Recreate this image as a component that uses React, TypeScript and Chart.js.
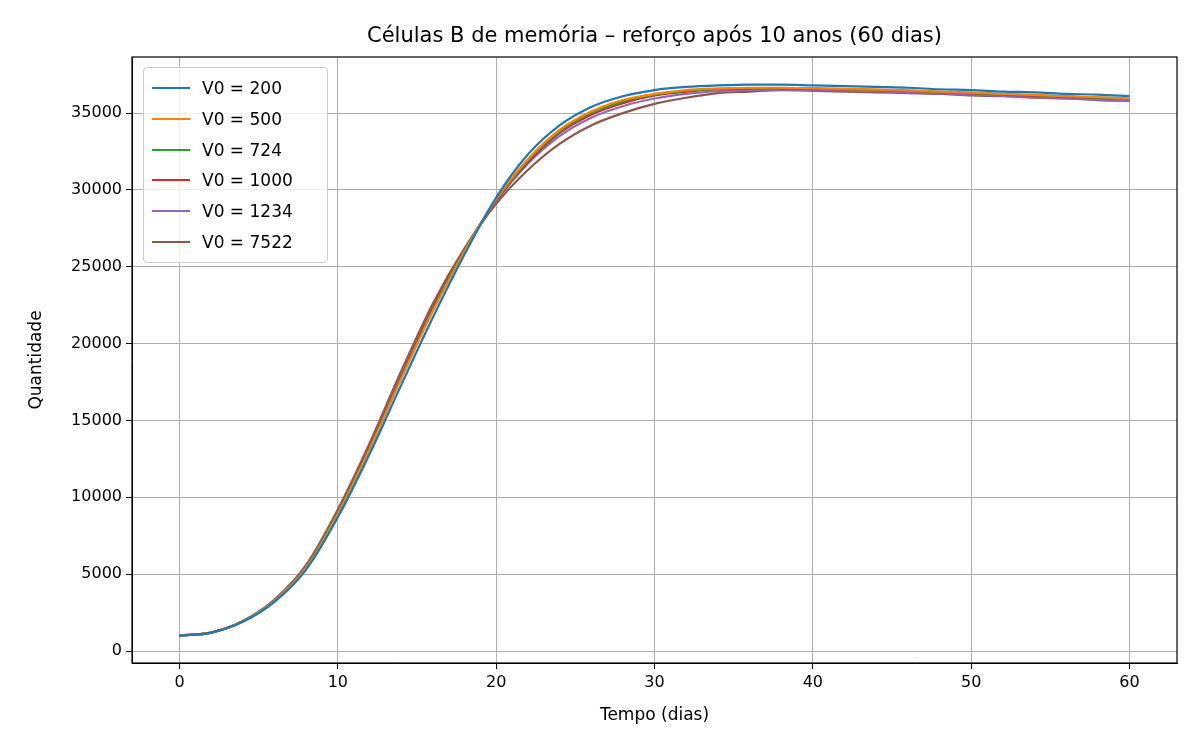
import { useRef, useEffect } from "react";
import { Chart, registerables } from "chart.js";

Chart.register(...registerables);

const days = [0, 2, 4, 6, 8, 10, 12, 14, 16, 18, 20, 22, 24, 26, 28, 30, 32, 34, 36, 38, 40, 42, 44, 46, 48, 50, 52, 54, 56, 58, 60];
const seriesLabels = ["V0 = 200", "V0 = 500", "V0 = 724", "V0 = 1000", "V0 = 1234", "V0 = 7522"];
const colors = ["#1f77b4", "#ff7f0e", "#2ca02c", "#d62728", "#9467bd", "#8c564b"];

const v200 = [1000, 1200, 1900, 3200, 5300, 8700, 12800, 17300, 21700, 25800, 29500, 32300, 34200, 35400, 36100, 36500, 36700, 36800, 36850, 36850, 36800, 36750, 36700, 36650, 36550, 36500, 36400, 36350, 36250, 36200, 36100];
const v500 = [1000, 1200, 1920, 3250, 5400, 8900, 13100, 17700, 22100, 26000, 29400, 32000, 33900, 35100, 35850, 36250, 36500, 36600, 36650, 36650, 36620, 36580, 36530, 36480, 36400, 36330, 36250, 36180, 36100, 36030, 35950];
const v724 = [1000, 1200, 1930, 3270, 5450, 9000, 13200, 17800, 22200, 26050, 29350, 31900, 33800, 35000, 35750, 36200, 36450, 36580, 36630, 36630, 36600, 36560, 36510, 36460, 36380, 36310, 36230, 36160, 36080, 36010, 35930];
const v1000 = [1000, 1200, 1930, 3280, 5480, 9050, 13300, 17900, 22300, 26100, 29300, 31800, 33700, 34900, 35650, 36150, 36400, 36550, 36600, 36610, 36580, 36540, 36490, 36440, 36360, 36290, 36210, 36140, 36060, 35990, 35910];
const v1234 = [1000, 1200, 1940, 3300, 5500, 9100, 13350, 18000, 22350, 26100, 29250, 31700, 33500, 34700, 35450, 35950, 36250, 36420, 36500, 36520, 36500, 36460, 36410, 36350, 36280, 36200, 36120, 36040, 35960, 35880, 35800];
const v7522 = [1000, 1200, 1950, 3350, 5600, 9200, 13500, 18200, 22600, 26200, 29100, 31300, 33000, 34200, 35000, 35600, 36000, 36300, 36400, 36500, 36450, 36400, 36350, 36300, 36250, 36150, 36100, 36000, 35950, 35850, 35800];
const allSeries = [v200, v500, v724, v1000, v1234, v7522];

const xTicks = [0, 10, 20, 30, 40, 50, 60];
const yTicks = [0, 5000, 10000, 15000, 20000, 25000, 30000, 35000];

const FONT = "DejaVu Sans";

const framePlugin = {
  id: "frame",
  afterDraw(chart: Chart) {
    const { ctx, chartArea: a } = chart;
    ctx.save();
    ctx.strokeStyle = "#000";
    ctx.lineWidth = 1.2;
    ctx.strokeRect(a.left, a.top, a.right - a.left, a.bottom - a.top);
    ctx.restore();
  },
};

export default function App() {
  const canvasRef = useRef<HTMLCanvasElement>(null);
  const chartRef = useRef<Chart | null>(null);

  useEffect(() => {
    if (!canvasRef.current) return;
    chartRef.current?.destroy();
    chartRef.current = new Chart(canvasRef.current, {
      type: "line",
      data: {
        datasets: allSeries.map((s, i) => ({
          label: seriesLabels[i],
          data: s.map((y, j) => ({ x: days[j], y })),
          borderColor: colors[i],
          borderWidth: 2.2,
          pointRadius: 0,
          cubicInterpolationMode: "monotone" as const,
        })),
      },
      options: {
        responsive: false,
        animation: false,
        layout: { padding: { top: 57, right: 23, left: 22, bottom: 20 } },
        plugins: { legend: { display: false }, tooltip: { enabled: false } },
        scales: {
          x: {
            type: "linear",
            min: -3,
            max: 63,
            afterBuildTicks: (s: any) => { s.ticks = xTicks.map((v) => ({ value: v })); },
            afterFit: (s: any) => { s.height = 67; },
            grid: { color: "#b0b0b0", lineWidth: 1, tickLength: 6, tickColor: "#000" },
            border: { color: "#000" },
            ticks: { color: "#000", font: { family: FONT, size: 16 }, padding: 4 },
            title: { display: true, text: "Tempo (dias)", color: "#000", font: { family: FONT, size: 17 }, padding: { top: 4 } },
          },
          y: {
            min: -780,
            max: 38650,
            afterBuildTicks: (s: any) => { s.ticks = yTicks.map((v) => ({ value: v })); },
            afterFit: (s: any) => { s.width = 110; },
            grid: { color: "#b0b0b0", lineWidth: 1, tickLength: 6, tickColor: "#000" },
            border: { color: "#000" },
            ticks: { color: "#000", font: { family: FONT, size: 16 }, padding: 4, callback: (v: any) => String(v) },
            title: { display: true, text: "Quantidade", color: "#000", font: { family: FONT, size: 17 }, padding: { bottom: 6 } },
          },
        },
      },
      plugins: [framePlugin],
    });
    return () => { chartRef.current?.destroy(); };
  }, []);

  return (
    <div style={{ position: "absolute", left: 0, top: 0, width: 1200, height: 750, background: "#fff", fontFamily: FONT }}>
      <canvas ref={canvasRef} width={1200} height={750} />
      <div style={{ position: "absolute", top: 23, left: 132, width: 1045, textAlign: "center", fontSize: 21 }}>
        Células B de memória – reforço após 10 anos (60 dias)
      </div>
      <div style={{ position: "absolute", left: 143, top: 67, width: 183, padding: "5px 0", border: "1px solid #ccc", borderRadius: 4, background: "rgba(255,255,255,0.8)" }}>
        {seriesLabels.map((l, i) => (
          <div key={l} style={{ display: "flex", alignItems: "center", height: 30.7, fontSize: 17 }}>
            <span style={{ display: "inline-block", width: 38, height: 2, background: colors[i], margin: "0 12px 0 8px" }} />
            {l}
          </div>
        ))}
      </div>
    </div>
  );
}
